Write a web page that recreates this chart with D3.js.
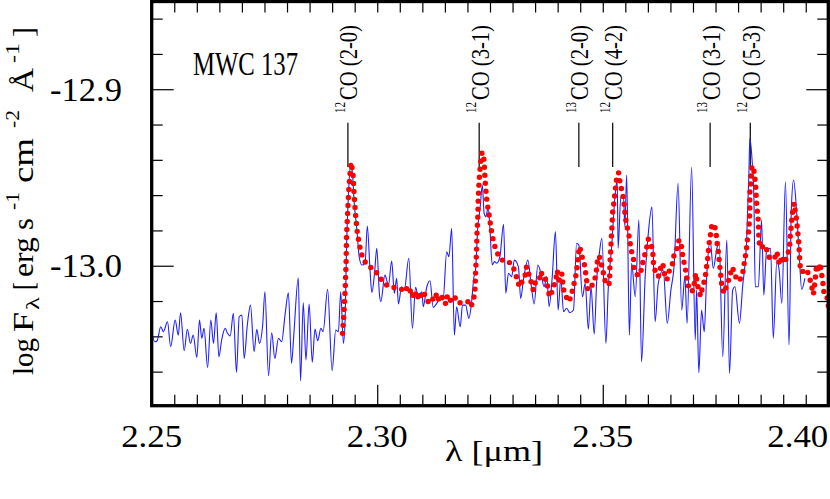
<!DOCTYPE html>
<html>
<head>
<meta charset="utf-8">
<script src="https://cdn.jsdelivr.net/npm/d3@7"></script>
<style>
body { margin: 0; background: #fff; }
text { font-family: "Liberation Serif", "Times New Roman", serif; fill: #000; }
</style>
</head>
<body>
<svg id="spectrum" width="830" height="499"></svg>
<script>
// observed spectrum (blue)
var waveObs = [
2.2500,2.2507,2.2512,2.2520,2.2526,2.2535,2.2542,2.2552,2.2559,2.2564,
2.2572,2.2579,2.2586,2.2592,2.2600,2.2606,2.2611,2.2616,2.2624,2.2631,
2.2637,2.2643,2.2649,2.2655,2.2663,2.2668,2.2674,2.2681,2.2688,2.2694,
2.2700,2.2705,2.2712,2.2719,2.2727,2.2733,2.2739,2.2746,2.2751,2.2759,
2.2766,2.2773,2.2781,2.2788,2.2796,2.2803,2.2810,2.2815,2.2825,2.2830,
2.2836,2.2842,2.2849,2.2856,2.2862,2.2868,2.2875,2.2880,2.2890,2.2900,
2.2908,2.2914,2.2919,2.2925,2.2929,2.2932,2.2936,2.2941,2.2945,2.2949,
2.2955,2.2960,2.2966,2.2973,2.2978,2.2984,2.2988,2.2994,2.2999,2.3005,
2.3008,2.3017,2.3025,2.3032,2.3038,2.3043,2.3047,2.3054,2.3060,2.3070,
2.3078,2.3085,2.3091,2.3099,2.3102,2.3110,2.3117,2.3124,2.3132,2.3139,
2.3146,2.3154,2.3159,2.3165,2.3171,2.3176,2.3184,2.3189,2.3196,2.3203,
2.3209,2.3214,2.3218,2.3223,2.3228,2.3233,2.3237,2.3241,2.3246,2.3250,
2.3255,2.3260,2.3265,2.3272,2.3280,2.3285,2.3291,2.3298,2.3304,2.3313,
2.3318,2.3324,2.3334,2.3341,2.3348,2.3356,2.3363,2.3370,2.3376,2.3381,
2.3388,2.3395,2.3401,2.3407,2.3413,2.3420,2.3427,2.3435,2.3442,2.3447,
2.3455,2.3461,2.3468,2.3474,2.3481,2.3487,2.3492,2.3498,
2.3507,2.3512,2.3520,2.3527,2.3532,2.3534,2.3540,2.3546,2.3549,2.3553,
2.3559,2.3564,2.3572,2.3580,2.3586,2.3594,2.3601,2.3609,2.3616,2.3623,
2.3634,2.3643,2.3651,2.3658,2.3667,2.3675,2.3682,2.3687,2.3697,2.3705,
2.3708,2.3713,2.3719,2.3725,2.3730,2.3738,2.3745,2.3753,2.3758,2.3766,
2.3775,2.3781,2.3788,2.3793,2.3803,2.3810,2.3819,2.3824,2.3826,2.3831,
2.3835,2.3838,2.3845,2.3852,2.3857,2.3863,2.3872,2.3878,2.3886,2.3891,
2.3897,2.3905,2.3913,2.3918,2.3923,2.3930,2.3935,2.3941,2.3948];
var fluxObs = [
-13.0374,-13.0431,-13.0425,-13.0346,-13.0374,-13.0317,-13.0459,-13.0308,-13.0393,-13.0266,
-13.0482,-13.0360,-13.0440,-13.0393,-13.0519,-13.0308,-13.0411,-13.0355,-13.0576,-13.0308,
-13.0440,-13.0266,-13.0516,-13.0421,-13.0355,-13.0383,-13.0398,-13.0270,-13.0604,-13.0289,
-13.0279,-13.0525,-13.0336,-13.0223,-13.0487,-13.0360,-13.0440,-13.0336,-13.0147,-13.0623,
-13.0380,-13.0525,-13.0411,-13.0431,-13.0270,-13.0153,-13.0553,-13.0393,-13.0068,-13.0652,
-13.0210,-13.0534,-13.0217,-13.0547,-13.0359,-13.0425,-13.0355,-13.0374,-13.0134,-13.0595,
-13.0364,-13.0374,-13.0147,-13.0440,-13.0289,-12.9892,-12.9609,-12.9420,-12.9476,-12.9646,
-12.9798,-12.9949,-12.9996,-12.9986,-12.9775,-13.0024,-13.0153,-13.0043,-12.9901,-13.0166,
-13.0204,-13.0053,-13.0109,-12.9973,-13.0156,-13.0071,-13.0217,-13.0119,-13.0138,-12.9958,
-13.0355,-13.0122,-13.0176,-13.0147,-13.0232,-13.0119,-13.0085,-13.0236,-13.0213,-13.0185,
-13.0194,-12.9921,-12.9949,-12.9788,-13.0393,-13.0232,-13.0346,-13.0223,-13.0223,-13.0298,
-13.0213,-13.0071,-13.0024,-12.9779,-12.9675,-12.9543,-12.9703,-12.9722,-12.9666,-12.9798,
-12.9996,-12.9977,-12.9986,-12.9949,-12.9765,-13.0156,-13.0043,-13.0062,-12.9968,-13.0006,
-13.0185,-13.0081,-12.9968,-13.0104,-13.0217,-12.9996,-13.0043,-13.0119,-13.0062,-13.0232,
-13.0062,-12.9807,-13.0251,-13.0071,-13.0261,-13.0241,-13.0266,-13.0251,-12.9873,-12.9883,
-13.0176,-13.0100,-13.0360,-13.0119,-13.0387,-13.0062,-12.9939,-12.9845,
-13.0440,-13.0138,-12.9883,-12.9609,-12.9514,-12.9901,-12.9609,-12.9609,-12.9779,-12.9486,
-13.0393,-12.9986,-13.0176,-12.9741,-13.0544,-13.0062,-12.9816,-12.9666,-13.0317,-13.0100,
-13.0024,-13.0326,-13.0138,-13.0006,-12.9533,-13.0251,-13.0062,-13.0326,-12.9442,-13.0421,
-13.0138,-13.0606,-13.0251,-13.0374,-13.0081,-12.9854,-13.0015,-12.9901,-12.9864,-13.0516,
-12.9854,-13.0610,-13.0138,-13.0119,-13.0326,-13.0119,-12.9854,-12.9476,-12.9278,-12.9401,
-12.9609,-13.0119,-13.0119,-12.9741,-13.0166,-12.9921,-12.9901,-13.0411,-12.9968,-13.0024,
-13.0213,-12.9524,-13.0449,-12.9684,-12.9514,-12.9703,-12.9911,-13.0134,-13.0071];

// model spectrum (red dotted)
var waveMod = [
2.2923,2.2926,2.2929,2.2931,2.2932,2.2935,2.2937,2.2940,2.2942,2.2946,
2.2949,2.2952,2.2956,2.2963,2.2969,2.2980,2.2993,2.3003,2.3016,2.3026,
2.3036,2.3047,2.3054,2.3063,2.3069,2.3076,2.3080,2.3088,2.3091,2.3099,
2.3106,2.3113,2.3119,2.3127,2.3132,2.3138,2.3145,2.3152,2.3156,2.3164,
2.3172,2.3180,2.3189,2.3201,2.3208,2.3214,2.3217,2.3218,2.3220,2.3221,
2.3223,2.3224,2.3226,2.3229,2.3232,2.3235,2.3237,2.3239,2.3242,2.3245,
2.3248,2.3251,2.3254,2.3258,2.3263,2.3272,2.3282,2.3291,2.3299,2.3307,
2.3311,2.3318,2.3322,2.3328,2.3331,2.3336,2.3341,2.3346,2.3351,2.3359,
2.3363,2.3369,2.3376,2.3379,2.3383,2.3390,2.3396,2.3399,2.3403,2.3409,
2.3413,2.3418,2.3424,2.3430,2.3433,2.3438,2.3442,2.3444,2.3446,2.3449,
2.3453,2.3459,2.3462,2.3467,2.3474,2.3481,2.3485,2.3487,2.3490,2.3495,
2.3498,2.3503,2.3507,2.3515,2.3516,2.3518,2.3520,2.3522,2.3525,2.3527,
2.3529,2.3532,2.3535,2.3538,2.3542,2.3546,2.3548,2.3550,2.3553,2.3558,
2.3563,2.3568,2.3569,2.3577,2.3583,2.3587,2.3592,2.3597,2.3601,2.3607,
2.3611,2.3612,2.3616,2.3623,2.3628,2.3633,2.3636,2.3642,2.3648,2.3655,
2.3658,2.3664,2.3669,2.3674,2.3676,2.3679,2.3683,2.3686,2.3690,2.3695,
2.3701,2.3706,2.3712,2.3717,2.3721,2.3727,2.3729,2.3732,2.3734,2.3736,
2.3742,2.3747,2.3751,2.3753,2.3756,2.3758,2.3760,2.3764,2.3769,2.3775,
2.3782,2.3786,2.3791,2.3797,2.3803,2.3810,2.3813,2.3816,2.3819,2.3821,
2.3824,2.3825,2.3826,2.3826,2.3826,2.3828,2.3829,2.3831,2.3834,2.3837,
2.3839,2.3841,2.3843,2.3845,2.3846,2.3849,2.3860,2.3869,2.3875,2.3880,
2.3886,2.3889,2.3893,2.3897,2.3902,2.3909,2.3914,2.3915,2.3917,2.3919,
2.3921,2.3924,2.3926,2.3929,2.3931,2.3933,2.3935,2.3936,2.3937,2.3939,
2.3942,2.3952,2.3958,2.3963,2.3967,2.3971,2.3974,2.3979,2.3982,2.3985,
2.3988,2.3991,2.3997,2.4000];
var fluxMod = [
-13.0383,-13.0279,-13.0128,-12.9977,-12.9826,-12.9669,-12.9567,-12.9467,-12.9416,-12.9467,
-12.9609,-12.9713,-12.9816,-12.9915,-12.9964,-13.0002,-13.0020,-13.0058,-13.0100,-13.0119,
-13.0122,-13.0134,-13.0134,-13.0115,-13.0156,-13.0134,-13.0185,-13.0147,-13.0194,-13.0147,
-13.0166,-13.0204,-13.0179,-13.0198,-13.0156,-13.0204,-13.0176,-13.0217,-13.0166,-13.0204,
-13.0179,-13.0213,-13.0204,-13.0204,-13.0232,-13.0185,-13.0128,-13.0043,-12.9930,-12.9826,
-12.9722,-12.9618,-12.9514,-12.9420,-12.9363,-12.9360,-12.9411,-12.9510,-12.9609,-12.9666,
-12.9713,-12.9764,-12.9816,-12.9864,-12.9911,-12.9958,-12.9977,-12.9977,-12.9996,-13.0043,
-13.0096,-13.0119,-13.0077,-13.0053,-13.0006,-13.0047,-13.0091,-13.0138,-13.0091,-13.0085,
-13.0034,-13.0077,-13.0077,-13.0147,-13.0176,-13.0128,-13.0077,-13.0028,-13.0081,-13.0043,
-13.0134,-13.0170,-13.0204,-13.0176,-13.0134,-13.0085,-13.0034,-12.9977,-12.9934,-12.9892,
-12.9939,-12.9990,-13.0040,-13.0138,-13.0119,-13.0091,-13.0047,-12.9996,-12.9945,-12.9958,
-13.0006,-13.0058,-13.0109,-13.0100,-12.9986,-12.9892,-12.9794,-12.9694,-12.9637,-12.9590,
-12.9537,-12.9486,-12.9473,-12.9524,-12.9571,-12.9618,-12.9669,-12.9726,-12.9769,-12.9826,
-12.9911,-12.9958,-13.0009,-13.0053,-13.0053,-13.0002,-12.9949,-12.9901,-12.9850,-12.9877,
-12.9926,-12.9977,-13.0028,-13.0062,-13.0015,-12.9986,-13.0040,-13.0081,-13.0024,-12.9986,
-12.9939,-12.9907,-12.9854,-12.9877,-12.9926,-12.9968,-13.0015,-13.0062,-13.0115,-13.0147,
-13.0138,-13.0043,-13.0134,-13.0172,-13.0122,-13.0071,-13.0024,-12.9977,-12.9921,-12.9870,
-12.9769,-12.9764,-12.9807,-12.9864,-12.9915,-12.9964,-13.0015,-13.0115,-13.0156,-13.0109,
-13.0062,-13.0009,-13.0028,-13.0081,-13.0085,-13.0047,-12.9996,-12.9949,-12.9896,-12.9845,
-12.9794,-12.9741,-12.9690,-12.9637,-12.9590,-12.9537,-12.9486,-12.9435,-12.9442,-12.9496,
-12.9552,-12.9646,-12.9700,-12.9751,-12.9854,-12.9901,-12.9883,-12.9952,-12.9958,-12.9964,
-12.9921,-12.9968,-12.9996,-12.9945,-12.9986,-12.9945,-12.9901,-12.9850,-12.9798,-12.9741,
-12.9694,-12.9646,-12.9680,-12.9726,-12.9775,-12.9826,-12.9883,-12.9934,-12.9983,-13.0034,
-13.0034,-13.0020,-13.0062,-13.0115,-13.0162,-13.0077,-12.9996,-13.0034,-12.9986,-13.0043,
-13.0096,-13.0166,-13.0176,-13.0228];

// CO bandheads
var lineWave = [2.2935, 2.3226, 2.3447, 2.3522, 2.3738, 2.3827];
var lineIso = ["12", "12", "13", "12", "13", "12"];
var lineBand = ["CO (2-0)", "CO (3-1)", "CO (2-0)", "CO (4-2)", "CO (3-1)", "CO (5-3)"];

var xTickLabels = ["2.25", "2.30", "2.35", "2.40"];
var xMajor = [2.25, 2.30, 2.35, 2.40];
var yTickLabels = ["-12.9", "-13.0"];
var yMajor = [-12.9, -13.0];

var svg = d3.select("#spectrum"),
    pLeft = 151.7, pRight = 828.3, pTop = 1.5, pBottom = 405.7;

var x = d3.scaleLinear().domain([2.25, 2.40]).range([pLeft, pRight]);
var y = d3.scaleLinear().domain([-13.0793, -12.8503]).range([pBottom, pTop]);

svg.append("defs").append("clipPath").attr("id", "plotArea")
   .append("rect")
   .attr("x", pLeft).attr("y", pTop)
   .attr("width", pRight - pLeft).attr("height", pBottom - pTop);

// tick marks (all inward)
var xMinor = d3.range(31).map(function(i) { return +(2.25 + i * 0.005).toFixed(3); })
               .filter(function(v) { return xMajor.indexOf(v) < 0; });
var yMinor = [-13.06, -13.04, -13.02, -12.98, -12.96, -12.94, -12.92, -12.88, -12.86];

function tickAxis(axis, vals, size, tx, ty)
{
    var g = svg.append("g")
               .attr("transform", "translate(" + tx + "," + ty + ")")
               .call(axis.tickValues(vals).tickSizeInner(size).tickSizeOuter(0).tickFormat(""));
    g.select(".domain").remove();
    g.selectAll("line").attr("stroke", "#000").attr("stroke-width", 1.2);
}
tickAxis(d3.axisBottom(x), xMinor, -11, 0, pBottom);
tickAxis(d3.axisBottom(x), xMajor, -21, 0, pBottom);
tickAxis(d3.axisTop(x), xMinor.concat(xMajor), -11, 0, pTop);
tickAxis(d3.axisLeft(y), yMinor, -11, pLeft, 0);
tickAxis(d3.axisLeft(y), yMajor, -22, pLeft, 0);
tickAxis(d3.axisRight(y), yMinor, -11, pRight, 0);
tickAxis(d3.axisRight(y), yMajor, -22, pRight, 0);

// bandhead markers
svg.append("g").selectAll("line")
   .data(lineWave)
   .enter().append("line")
   .attr("x1", function(d) { return x(d); })
   .attr("x2", function(d) { return x(d); })
   .attr("y1", 122.7)
   .attr("y2", 167)
   .attr("stroke", "#000")
   .attr("stroke-width", 1.2);

var plot = svg.append("g").attr("clip-path", "url(#plotArea)");

var obs = waveObs.map(function(w, i) { return [w, fluxObs[i]]; });
var mod = waveMod.map(function(w, i) { return [w, fluxMod[i]]; });
var line = d3.line()
             .x(function(d) { return x(d[0]); })
             .y(function(d) { return y(d[1]); })
             .curve(d3.curveMonotoneX);

plot.append("path")
    .datum(obs)
    .attr("d", line)
    .attr("fill", "none")
    .attr("stroke", "#1f1fff")
    .attr("stroke-width", 1.1);

plot.append("path")
    .datum(mod)
    .attr("d", d3.line().x(function(d) { return x(d[0]); }).y(function(d) { return y(d[1]); }))
    .attr("fill", "none")
    .attr("stroke", "#ff0000")
    .attr("stroke-width", 5.4)
    .attr("stroke-linecap", "round")
    .attr("stroke-dasharray", "0,8");

// frame
svg.append("rect")
   .attr("x", pLeft).attr("y", pTop)
   .attr("width", pRight - pLeft).attr("height", pBottom - pTop)
   .attr("fill", "none")
   .attr("stroke", "#000")
   .attr("stroke-width", 3.3);

// tick labels
svg.append("g").selectAll("text")
   .data(xMajor)
   .enter().append("text")
   .attr("x", function(d) { return x(d); })
   .attr("y", 446.7)
   .attr("font-family", "Liberation Serif")
   .attr("font-size", "32px")
   .attr("text-anchor", function(d, i) { return i == xMajor.length - 1 ? "end" : "middle"; })
   .attr("textLength", 61)
   .attr("lengthAdjust", "spacingAndGlyphs")
   .text(function(d, i) { return xTickLabels[i]; });

svg.append("g").selectAll("text")
   .data(yMajor)
   .enter().append("text")
   .attr("x", 122)
   .attr("y", function(d) { return y(d) + 11.5; })
   .attr("font-family", "Liberation Serif")
   .attr("font-size", "33px")
   .attr("text-anchor", "end")
   .attr("textLength", 72)
   .attr("lengthAdjust", "spacingAndGlyphs")
   .text(function(d, i) { return yTickLabels[i]; });

// x title
svg.append("text")
   .attr("x", 445).attr("y", 461)
   .attr("font-family", "Liberation Serif")
   .attr("font-size", "30px")
   .attr("textLength", 98)
   .attr("lengthAdjust", "spacingAndGlyphs")
   .text("λ [μm]");

// y title, built piece by piece (rotated)
var yTitle = [
    ["log", 375, 338, "n"], ["F", 332, 312, "n"], ["λ", 310, 297, "sub"],
    ["[", 290, 282, "n"], ["erg", 277, 237, "n"], ["s", 230, 218, "n"],
    ["-1", 210, 192, "sup"], ["cm", 183, 138, "n"], ["-2", 128, 110, "sup"],
    ["Å", 92, 68, "n"], ["-1", 63, 43, "sup"], ["]", 37, 27, "n"]
];
svg.append("g").selectAll("text")
   .data(yTitle)
   .enter().append("text")
   .attr("transform", function(d) {
        var bx = d[3] == "sup" ? 19 : (d[3] == "sub" ? 39 : 33.3);
        return "translate(" + bx + "," + d[1] + ") rotate(-90)";
   })
   .attr("font-family", "Liberation Serif")
   .attr("font-size", function(d) { return d[3] == "n" ? "30px" : "18px"; })
   .attr("textLength", function(d) { return d[1] - d[2]; })
   .attr("lengthAdjust", "spacingAndGlyphs")
   .text(function(d) { return d[0]; });

// object name
svg.append("text")
   .attr("x", 193).attr("y", 75)
   .attr("font-family", "Liberation Serif")
   .attr("font-size", "34px")
   .attr("textLength", 105)
   .attr("lengthAdjust", "spacingAndGlyphs")
   .text("MWC 137");

// bandhead labels
var labels = svg.append("g").selectAll("g")
   .data(lineWave)
   .enter().append("g");
labels.append("text")
   .attr("transform", function(d) { return "translate(" + (x(d) - 3) + ",113) rotate(-90)"; })
   .attr("font-family", "Liberation Serif")
   .attr("font-size", "14px")
   .attr("textLength", 11)
   .attr("lengthAdjust", "spacingAndGlyphs")
   .text(function(d, i) { return lineIso[i]; });
labels.append("text")
   .attr("transform", function(d) { return "translate(" + (x(d) + 9.5) + ",100) rotate(-90)"; })
   .attr("font-family", "Liberation Serif")
   .attr("font-size", "25px")
   .attr("textLength", 75)
   .attr("lengthAdjust", "spacingAndGlyphs")
   .text(function(d, i) { return lineBand[i]; });
</script>
</body>
</html>
